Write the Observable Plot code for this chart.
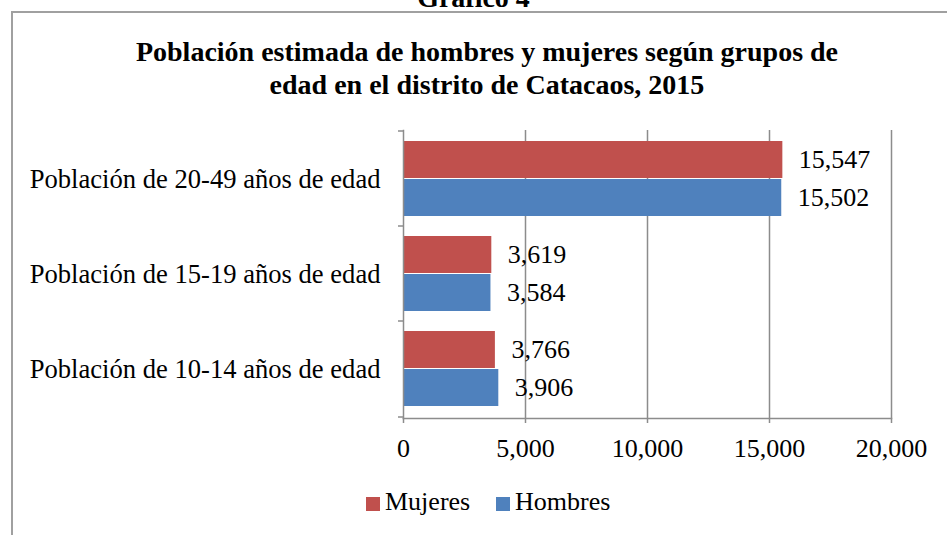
<!DOCTYPE html>
<html><head><meta charset="utf-8">
<script src="https://cdn.jsdelivr.net/npm/d3@7"></script>
<script src="https://cdn.jsdelivr.net/npm/@observablehq/plot@0.6"></script>
<style>
body{margin:0;background:#fff;font-family:"Liberation Serif","Times New Roman",serif;color:#000;}
#wrap{position:relative;width:947px;height:535px;overflow:hidden;background:#fff;}
#frame{position:absolute;left:11px;top:11px;width:1000px;height:600px;border:2px solid #a0a0a0;box-sizing:border-box;}
#sup{position:absolute;left:0;width:947px;top:-16px;text-align:center;font-weight:bold;font-size:28px;line-height:28px;}
#title{position:absolute;left:0;width:974px;top:35px;text-align:center;font-weight:bold;font-size:28px;line-height:33px;}
#chart{position:absolute;left:0;top:0;}
.sw{position:absolute;width:14px;height:14px;}
.lt{position:absolute;font-size:26px;line-height:26px;white-space:nowrap;}
</style></head><body>
<div id="wrap">
<div id="frame"></div>
<div id="sup">Gráfico 4</div>
<div id="title">Población estimada de hombres y mujeres según grupos de<br>edad en el distrito de Catacaos, 2015</div>
<div id="chart"></div>
<div id="legend"></div>
</div>
<script>
const groups = ["Población de 20-49 años de edad","Población de 15-19 años de edad","Población de 10-14 años de edad"];
const series = ["Mujeres","Hombres"];
const mujeres = [15547, 3619, 3766];
const hombres = [15502, 3584, 3906];
const colors = ["#C0504D","#4F81BD"];
const xTicks = [0,5000,10000,15000,20000];

const fmt = d3.format(",");
const dataM = groups.map((g,i)=>({group:g, series:"Mujeres", value:mujeres[i]}));
const dataH = groups.map((g,i)=>({group:g, series:"Hombres", value:hombres[i]}));
const gray = "#8c8c8c";

const chart = Plot.plot({
  width: 947, height: 470,
  marginLeft: 403, marginRight: 56, marginTop: 130, marginBottom: 52,
  style: {fontFamily: "'Liberation Serif','Times New Roman',serif", fontSize: "26px", color: "#000", background: "transparent", overflow: "visible"},
  x: {domain: [0, 20000], label: null},
  y: {domain: groups, paddingInner: 0.2083, paddingOuter: 0.1042, label: null},
  marks: [
    Plot.gridX(xTicks.slice(1), {stroke: gray, strokeOpacity: 1, strokeWidth: 1.5}),
    Plot.barX(dataM, {x: "value", y: "group", fill: colors[0], insetBottom: 38}),
    Plot.barX(dataH, {x: "value", y: "group", fill: colors[1], insetTop: 38}),
    Plot.frame({anchor: "left", stroke: gray, strokeWidth: 1.5}),
    Plot.frame({anchor: "bottom", stroke: gray, strokeWidth: 1.5}),
    Plot.ruleY(groups, {y: d => d, dy: -48, x1: -205, x2: 0, stroke: gray, strokeWidth: 1.5}),
    Plot.ruleY(groups.slice(-1), {y: d => d, dy: 48, x1: -205, x2: 0, stroke: gray, strokeWidth: 1.5}),
    Plot.axisX({ticks: xTicks, tickFormat: fmt, tickSize: 5, tickPadding: 15, stroke: gray, strokeWidth: 1.5, fill: "#000", label: null}),
    Plot.axisY({tickSize: 0, tickPadding: 23, fill: "#000", fontSize: "26.6px", label: null}),
    Plot.text(dataM, {x: "value", y: "group", text: d => fmt(d.value), dx: 16, dy: -19, textAnchor: "start", fill: "#000"}),
    Plot.text(dataH, {x: "value", y: "group", text: d => fmt(d.value), dx: 16, dy: 19, textAnchor: "start", fill: "#000"})
  ]
});
document.getElementById("chart").appendChild(chart);

const legend = document.getElementById("legend");
const legendPos = [{sw: 366, tx: 385}, {sw: 496, tx: 515}];
series.forEach((s, i) => {
  const sw = document.createElement("div");
  sw.className = "sw"; sw.style.left = legendPos[i].sw + "px"; sw.style.top = "497px"; sw.style.background = colors[i];
  const t = document.createElement("div");
  t.className = "lt"; t.style.left = legendPos[i].tx + "px"; t.style.top = "489px"; t.textContent = s;
  legend.appendChild(sw); legend.appendChild(t);
});
</script>
</body></html>
